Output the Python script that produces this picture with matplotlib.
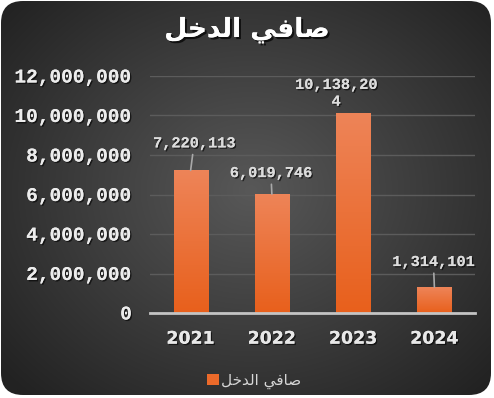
import numpy as np
import matplotlib
matplotlib.use('Agg')
import matplotlib.pyplot as plt
from matplotlib.patches import FancyBboxPatch, Rectangle
import matplotlib.patheffects as pe
from matplotlib.ticker import FuncFormatter, MultipleLocator

categories = ['2021', '2022', '2023', '2024']
values = [7220113, 6019746, 10138204, 1314101]
data_labels = ['7,220,113', '6,019,746', '10,138,20\n4', '1,314,101']
title_text = 'صافي الدخل'
series_name = 'صافي الدخل'

# --- minimal Arabic shaping (presentation forms + visual order) ---
FORMS = {  # iso, fin, ini, med
    'ص': ('\uFEB9', '\uFEBA', '\uFEBB', '\uFEBC'),
    'ا': ('\uFE8D', '\uFE8E', None, None),
    'ف': ('\uFED1', '\uFED2', '\uFED3', '\uFED4'),
    'ي': ('\uFEF1', '\uFEF2', '\uFEF3', '\uFEF4'),
    'ل': ('\uFEDD', '\uFEDE', '\uFEDF', '\uFEE0'),
    'د': ('\uFEA9', '\uFEAA', None, None),
    'خ': ('\uFEA5', '\uFEA6', '\uFEA7', '\uFEA8'),
}

def shape(s):
    out = []
    n = len(s)
    for i, c in enumerate(s):
        if c not in FORMS:
            out.append(c)
            continue
        prev = s[i - 1] if i > 0 else None
        nxt = s[i + 1] if i < n - 1 else None
        join_prev = prev in FORMS and FORMS[prev][2] is not None
        join_next = nxt in FORMS and FORMS[c][2] is not None
        f = FORMS[c]
        if join_prev and join_next:
            out.append(f[3])
        elif join_prev:
            out.append(f[1])
        elif join_next:
            out.append(f[2])
        else:
            out.append(f[0])
    return ''.join(out)[::-1]

W, H = 494, 398
fig = plt.figure(figsize=(W / 100, H / 100), dpi=100)
fig.patch.set_facecolor('white')

# background card with radial gradient
bg = fig.add_axes([0, 0, 1, 1])
bg.set_xlim(0, W)
bg.set_ylim(H, 0)
bg.axis('off')
yy, xx = np.mgrid[0:H, 0:W]
r = np.sqrt(((xx - 250) / 330.0) ** 2 + ((yy - 190) / 280.0) ** 2)
r = np.clip(r, 0, 1)
c0 = np.array([0x58, 0x58, 0x58]) / 255
c1 = np.array([0x22, 0x22, 0x22]) / 255
img = c0[None, None, :] * (1 - r[..., None]) + c1[None, None, :] * r[..., None]
card = FancyBboxPatch((1, 1), 490, 394, boxstyle='round,pad=0,rounding_size=22',
                      facecolor='none', edgecolor='none', transform=bg.transData)
bg.add_patch(card)
im = bg.imshow(img, extent=[0, W, H, 0], aspect='auto', zorder=0)
im.set_clip_path(card)

# main axes
ax = fig.add_axes([150 / W, 85 / H, 325 / W, 237 / H])
ax.set_facecolor('none')
x = np.arange(len(categories))
bars = ax.bar(x, values, width=0.42, color='#ec6a2a', zorder=3,
              edgecolor='none')
grad = np.linspace(0, 1, 100)[:, None]
top_c = np.array([0xee, 0x84, 0x58]) / 255
bot_c = np.array([0xe8, 0x60, 0x1c]) / 255
gimg = top_c[None, None, :] * (1 - grad[..., None]) + bot_c[None, None, :] * grad[..., None]
for b in bars:
    bx, bw, bh = b.get_x(), b.get_width(), b.get_height()
    gi = ax.imshow(gimg, extent=[bx, bx + bw, 0, bh], aspect='auto', zorder=4,
                   origin='upper')
    gi.set_clip_path(b)

ax.set_xlim(-0.5, 3.5)
ax.set_ylim(0, 12e6)
ax.yaxis.set_major_locator(MultipleLocator(2e6))
ax.yaxis.set_major_formatter(FuncFormatter(lambda v, p: f'{v:,.0f}'))
ax.grid(axis='y', color='#5c5c5c', lw=1, zorder=1)
ax.set_axisbelow(True)
for s in ['top', 'right', 'left']:
    ax.spines[s].set_visible(False)
ax.spines['bottom'].set_color('#c4c4c4')
ax.spines['bottom'].set_linewidth(2)
ax.spines['bottom'].set_zorder(5)
ax.set_xticks(x)
ax.set_xticklabels(categories)
ax.tick_params(axis='both', length=0)
ax.tick_params(axis='y', pad=13)
ax.tick_params(axis='x', pad=12)
shadow = [pe.withSimplePatchShadow(offset=(1, -1), shadow_rgbFace='black', alpha=0.6), pe.Normal()]
for t in ax.get_yticklabels():
    t.set_fontfamily('Liberation Mono')
    t.set_fontweight('bold')
    t.set_fontsize(14)
    t.set_color('#ececec')
    t.set_path_effects(shadow)
for t in ax.get_xticklabels():
    t.set_fontfamily('DejaVu Sans')
    t.set_fontweight('bold')
    t.set_fontsize(12.5)
    t.set_color('#e8e8e8')
    t.set_path_effects(shadow)

offsets = [(3.5, 27), (-1, 21), (-17, 19.5), (-1, 25)]
arrows = [True, True, False, True]
for i, (v, lab) in enumerate(zip(values, data_labels)):
    ap = dict(arrowstyle='-', color='#a8a8a8', lw=1.2, shrinkA=1, shrinkB=0) if arrows[i] else None
    ax.annotate(lab, xy=(i, v), xytext=offsets[i], textcoords='offset pixels',
                ha='center', va='center', fontfamily='Liberation Mono',
                fontweight='bold', fontsize=11, color='#dcdcdc',
                linespacing=1.25, arrowprops=ap, zorder=6,
                path_effects=shadow)

# title
fig.text(247 / W, 1 - 30 / H, shape(title_text), fontsize=19, fontweight='bold',
         color='white', ha='center', va='center', fontfamily='DejaVu Sans',
         path_effects=[pe.withSimplePatchShadow(offset=(1.5, -1.5), shadow_rgbFace='black', alpha=0.7), pe.Normal()])

# legend
h = Rectangle((0, 0), 1, 1, facecolor='#ec6a2a', edgecolor='none')
leg = fig.legend([h], [shape(series_name)], loc='center', bbox_to_anchor=(254 / W, 1 - 381 / H),
                 frameon=False, fontsize=11, handlelength=0.8, handleheight=0.75,
                 handletextpad=0.1, labelcolor='#d6d6d6')

fig.savefig('out.png', dpi=100)
